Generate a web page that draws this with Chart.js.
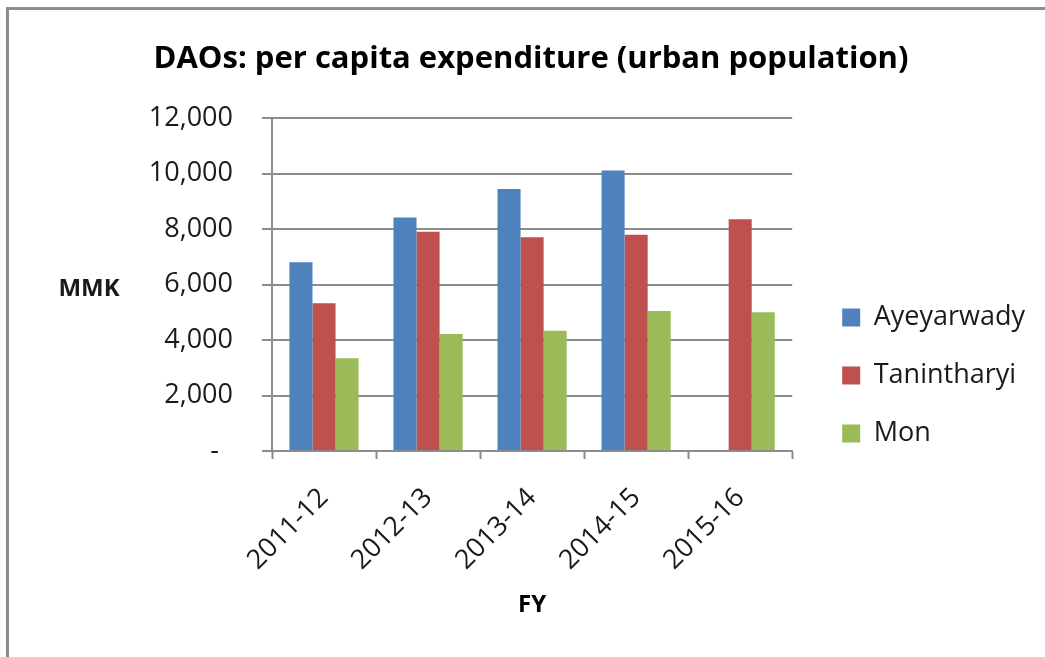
<!DOCTYPE html>
<html>
<head>
<meta charset="utf-8">
<script src="https://cdn.jsdelivr.net/npm/chart.js@4.4.1/dist/chart.umd.min.js"></script>
<style>
  html, body { margin: 0; padding: 0; background: #fff; }
  #frame {
    position: absolute; left: 6px; top: 7px; right: -10px; bottom: -10px;
    border-top: 3px solid #8c8c8c; border-left: 3px solid #8c8c8c;
  }
  #wrap { position: absolute; left: 0; top: 0; width: 1045px; height: 657px; }
</style>
</head>
<body>
<div id="frame"></div>
<div id="wrap"><canvas id="daoChart"></canvas></div>
<script>
// Financial years (x axis)
const years = ['2011-12', '2012-13', '2013-14', '2014-15', '2015-16'];

// Per capita expenditure, MMK
const ayeyarwady = [6810, 8420, 9450, 10110, null]; // no 2015-16 bar
const tanintharyi = [5330, 7910, 7710, 7800, 8360];
const mon = [3340, 4220, 4340, 5050, 5000];

const gridGrey = '#8c8c8c';
const textColor = '#1a1a1a';
const fontFamily = "'Open Sans', 'Noto Sans', sans-serif";

// y title is written horizontally in the original, so draw it ourselves
const mmkLabel = {
    id: 'mmkLabel',
    afterDraw(chart) {
        const ctx = chart.ctx;
        const area = chart.chartArea;
        ctx.save();
        ctx.font = 'bold 24px ' + fontFamily;
        ctx.fillStyle = textColor;
        ctx.textAlign = 'center';
        ctx.textBaseline = 'middle';
        ctx.fillText('MMK', 89, (area.top + area.bottom) / 2 + 5);
        ctx.restore();
    }
};

// push the legend a little away from the plot, like the Excel original
const moveLegend = {
    id: 'moveLegend',
    afterLayout(chart) {
        const lg = chart.legend;
        const dx = chart.chartArea.right + 19 - lg.left;
        lg.left += dx;
        lg.right += dx;
        const h = lg.bottom - lg.top;
        lg.top = 273;
        lg.bottom = lg.top + h;
    }
};

const data = {
    labels: years,
    datasets: [
        { label: 'Ayeyarwady', data: ayeyarwady, backgroundColor: '#4f81bd' },
        { label: 'Tanintharyi', data: tanintharyi, backgroundColor: '#c0504d' },
        { label: 'Mon', data: mon, backgroundColor: '#9bbb59' }
    ]
};

const config = {
    type: 'bar',
    data: data,
    options: {
        responsive: true,
        maintainAspectRatio: false,
        animation: false,
        // left padding keeps the title centred over the plot
        layout: { padding: { left: 46, right: 29, top: 0, bottom: 0 } },
        datasets: {
            bar: { barPercentage: 1, categoryPercentage: 0.665 }
        },
        plugins: {
            title: {
                display: true,
                text: 'DAOs: per capita expenditure (urban population)',
                color: '#000',
                font: { family: fontFamily, size: 31, weight: 'bold' },
                padding: { top: 41, bottom: 40 }
            },
            legend: {
                position: 'right',
                align: 'start',
                labels: {
                    boxWidth: 18,
                    boxHeight: 18,
                    padding: 31,
                    color: textColor,
                    font: { family: fontFamily, size: 27 }
                }
            },
            tooltip: { enabled: false }
        },
        scales: {
            x: {
                grid: {
                    display: true,
                    drawOnChartArea: false,
                    drawTicks: true,
                    tickLength: 8,
                    tickWidth: 2,
                    color: gridGrey
                },
                border: { display: true, color: gridGrey, width: 2 },
                ticks: {
                    color: textColor,
                    font: { family: fontFamily, size: 27 },
                    minRotation: 45,
                    maxRotation: 45,
                    padding: 23
                },
                title: {
                    display: true,
                    text: 'FY',
                    color: '#000',
                    font: { family: fontFamily, size: 24, weight: 'bold' },
                    padding: { top: 0, bottom: 37 }
                },
                afterFit(scale) { scale.height = 657 - 451; }
            },
            y: {
                min: 0,
                max: 12000,
                grid: {
                    color: gridGrey,
                    lineWidth: 2,
                    tickLength: 10
                },
                border: { display: true, color: gridGrey, width: 2 },
                ticks: {
                    stepSize: 2000,
                    padding: 29,
                    color: textColor,
                    font: { family: fontFamily, size: 27 },
                    callback: function(v) {
                        return v === 0 ? '-  ' : v.toLocaleString('en-US');
                    }
                },
                afterFit(scale) { scale.width = 272 - 46; }
            }
        }
    },
    plugins: [mmkLabel, moveLegend]
};

window.onload = function() {
    const ctx = document.getElementById('daoChart').getContext('2d');
    new Chart(ctx, config);
};
</script>
</body>
</html>
